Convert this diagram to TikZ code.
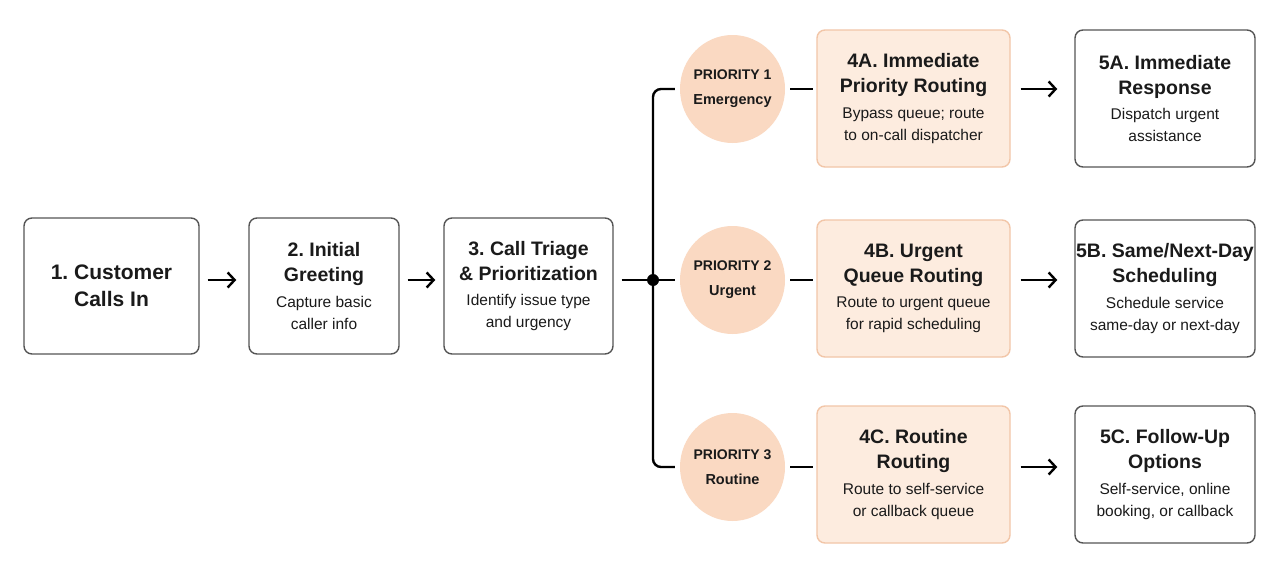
\documentclass[tikz,border=0pt]{standalone}
\usepackage{fontspec}
\setmainfont{Liberation Sans}
\usetikzlibrary{arrows.meta,shapes.geometric,calc}
\frenchspacing
\definecolor{txt}{RGB}{26,26,26}
\definecolor{boxline}{RGB}{85,85,85}
\definecolor{peach}{RGB}{250,217,194}
\definecolor{peachbox}{RGB}{253,236,223}
\definecolor{peachline}{RGB}{242,198,168}
\newcommand{\ttlA}{\fontsize{21}{27}\selectfont\bfseries}
\newcommand{\ttl}{\fontsize{19.5}{22}\selectfont\bfseries}
\newcommand{\sbt}{\fontsize{15.5}{22}\selectfont\mdseries}
\newcommand{\prio}{\fontsize{14}{25}\selectfont\bfseries}
\newcommand{\prioB}{\fontsize{14.5}{25}\selectfont\bfseries}
\newcommand{\pline}[1]{\makebox[0pt]{\raisebox{-4.5pt}{#1}}}
\begin{document}
\begin{tikzpicture}[x=1pt,y=-1pt,
  base/.style={rectangle,rounded corners=8pt,line width=1.4pt,inner sep=0pt,align=center,text=txt,font=\sbt},
  graybox/.style={base,draw=boxline,fill=white},
  peachrect/.style={base,draw=peachline,fill=peachbox},
  prionode/.style={ellipse,fill=peach,minimum width=105pt,minimum height=108pt,inner sep=0pt,align=center,text=txt,font=\prio},
  dot/.style={circle,fill=black,minimum size=12pt,inner sep=0pt},
  conn/.style={line width=2.4pt,draw=black},
  arr/.style={conn,-{Straight Barb[length=7pt,width=15pt,line width=2.4pt]}}]
\useasboundingbox (0,0) rectangle (1280,570);
\fill[white] (0,0) rectangle (1280,570);
% main flow
\node[graybox,font=\ttlA,minimum width=175pt,minimum height=136pt] (b1) at (111.5,286) {1. Customer\\Calls In};
\node[graybox,minimum width=150pt,minimum height=136pt] (b2) at (324,286) {\ttl 2. Initial\\[3pt]\ttl Greeting\\[3.5pt]\sbt Capture basic\\\sbt caller info};
\node[graybox,minimum width=169pt,minimum height=136pt] (b3) at (528.5,286) {\ttl 3. Call Triage\\[3pt]\ttl \& Prioritization\\[3.5pt]\sbt Identify issue type\\\sbt and urgency};
\node[dot] (j) at (653,280) {};
% priorities
\node[prionode] (p1) at (732.5,89) {\pline{PRIORITY 1}\\\prioB\pline{Emergency}};
\node[prionode] (p2) at (732.5,280) {\pline{PRIORITY 2}\\\prioB\pline{Urgent}};
\node[prionode] (p3) at (732.5,467) {\pline{PRIORITY 3}\\\prioB\pline{Routine}};
% step 4
\node[peachrect,minimum width=193pt,minimum height=137pt] (b4a) at (913.5,98.5) {\ttl 4A. Immediate\\[3pt]\ttl Priority Routing\\[3.5pt]\sbt Bypass queue; route\\\sbt to on-call dispatcher};
\node[peachrect,minimum width=193pt,minimum height=137pt] (b4b) at (913.5,288.5) {\ttl 4B. Urgent\\[3pt]\ttl Queue Routing\\[3.5pt]\sbt Route to urgent queue\\\sbt for rapid scheduling};
\node[peachrect,minimum width=193pt,minimum height=137pt] (b4c) at (913.5,474.5) {\ttl 4C. Routine\\[3pt]\ttl Routing\\[3.5pt]\sbt Route to self-service\\\sbt or callback queue};
% step 5
\node[graybox,minimum width=180pt,minimum height=137pt] (b5a) at (1165,98.5) {\ttl 5A. Immediate\\[3pt]\ttl Response\\[3.5pt]\sbt Dispatch urgent\\\sbt assistance};
\node[graybox,minimum width=180pt,minimum height=137pt] (b5b) at (1165,288.5) {\ttl 5B. Same/Next-Day\\[3pt]\ttl Scheduling\\[3.5pt]\sbt Schedule service\\\sbt same-day or next-day};
\node[graybox,minimum width=180pt,minimum height=137pt] (b5c) at (1165,474.5) {\ttl 5C. Follow-Up\\[3pt]\ttl Options\\[3.5pt]\sbt Self-service, online\\\sbt booking, or callback};
% connectors
\draw[arr] ([xshift=8pt]b1.east |- j) -- ([xshift=-12pt]b2.west |- j);
\draw[arr] ([xshift=8pt]b2.east |- j) -- ([xshift=-8pt]b3.west |- j);
\draw[conn] ([xshift=8pt]b3.east |- j) -- (j.center);
\draw[conn,rounded corners=8pt] ([xshift=-5pt]p1.west) -| (j.center) |- ([xshift=-5pt]p3.west);
\draw[conn] (j.center) -- ([xshift=-5pt]p2.west);
\draw[conn] ([xshift=5pt]p1.east) -- ([xshift=-3pt]p1.east -| b4a.west);
\draw[conn] ([xshift=5pt]p2.east) -- ([xshift=-3pt]p2.east -| b4b.west);
\draw[conn] ([xshift=5pt]p3.east) -- ([xshift=-3pt]p3.east -| b4c.west);
\draw[arr] ([xshift=10pt]p1.east -| b4a.east) -- ([xshift=-17pt]p1.east -| b5a.west);
\draw[arr] ([xshift=10pt]p2.east -| b4b.east) -- ([xshift=-17pt]p2.east -| b5b.west);
\draw[arr] ([xshift=10pt]p3.east -| b4c.east) -- ([xshift=-17pt]p3.east -| b5c.west);
\end{tikzpicture}
\end{document}
